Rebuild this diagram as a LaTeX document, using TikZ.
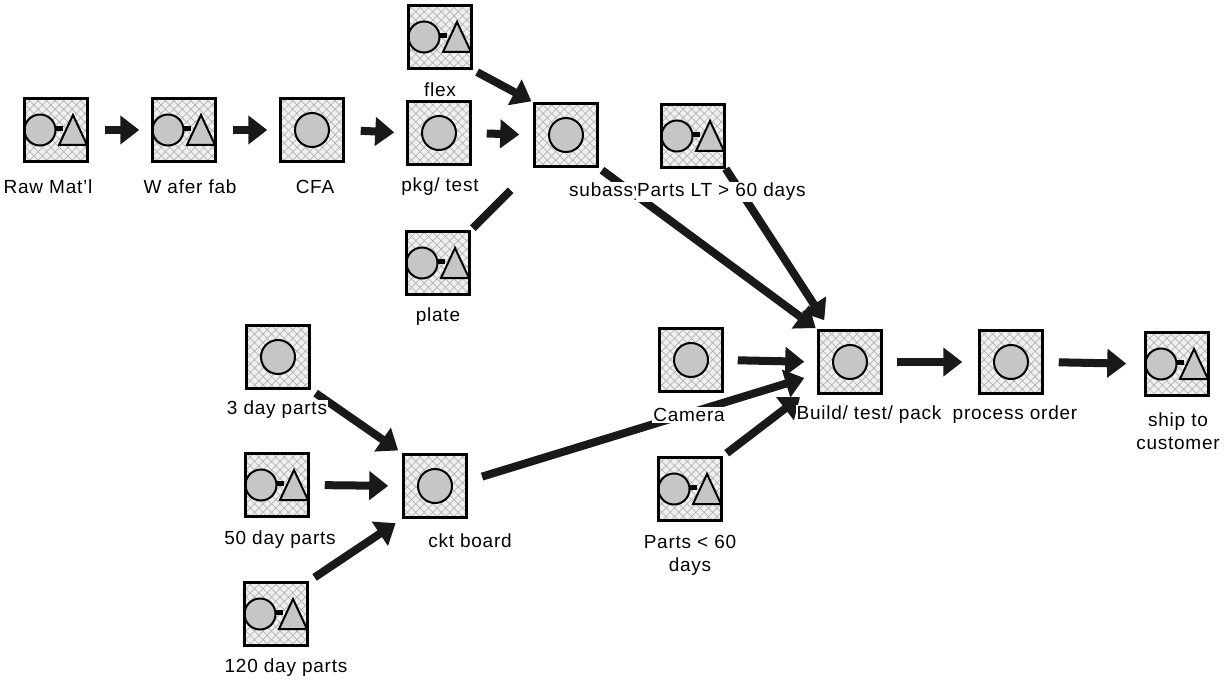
\documentclass[tikz,border=0pt]{standalone}
\usepackage{fontspec}
\setmainfont{Liberation Sans}[LetterSpace=4]
\usetikzlibrary{arrows.meta,patterns.meta,calc}
\newcommand\boxbg{%
  \fill[pattern={Lines[angle=45,distance=6pt,line width=0.7pt]},pattern color=gray!60]
    (path picture bounding box.south west) rectangle (path picture bounding box.north east);
  \fill[pattern={Lines[angle=-45,distance=6pt,line width=0.7pt]},pattern color=gray!60]
    (path picture bounding box.south west) rectangle (path picture bounding box.north east);}
\tikzset{
  box/.style={draw, line width=2.5pt, minimum size=63pt, inner sep=0pt, fill=gray!12},
  opbox/.style={box, path picture={\boxbg
     \draw[line width=2pt, fill=gray!45] (path picture bounding box.center) circle (17pt);}},
  invbox/.style={box, path picture={\boxbg
     \begin{scope}[shift={(path picture bounding box.center)}]
       \draw[line width=2pt, fill=gray!45] (-16,0) circle (15.5pt);
       \draw[line width=2pt, fill=gray!45, line join=miter] (3,15) -- (17,-15) -- (31,15) -- cycle;
       \fill[black] (0,-4) rectangle (7,1);
     \end{scope}}},
  arr/.style={line width=8pt, color=black!90, -{Triangle[length=19pt,width=28pt]}},
  plain/.style={line width=8pt, color=black!90},
  lab/.style={fill=white, inner sep=1pt, font=\fontsize{19}{23}\selectfont, align=center},
}
\begin{document}
\begin{tikzpicture}[x=1pt,y=-1pt]
\useasboundingbox[fill=white] (0,0) rectangle (1224,682);
% boxes
\node[invbox] (raw) at (56,130) {};
\node[invbox] (wafer) at (184,130) {};
\node[opbox] (cfa) at (312,130) {};
\node[opbox] (pkg) at (439,133) {};
\node[invbox] (flex) at (440,37) {};
\node[opbox] (subassy) at (566,135) {};
\node[invbox] (partslt) at (693,136) {};
\node[invbox] (plate) at (438,263) {};
\node[opbox] (day3) at (278,357) {};
\node[invbox] (day50) at (277,485) {};
\node[invbox] (day120) at (276,614) {};
\node[opbox] (ckt) at (435,486) {};
\node[opbox] (camera) at (691,360) {};
\node[invbox] (parts60) at (690,489) {};
\node[opbox] (build) at (850,362) {};
\node[opbox] (proc) at (1011,362) {};
\node[invbox] (ship) at (1177,364) {};
% connectors
\draw[arr, shorten <=16pt, shorten >=12pt] (raw.east) -- (wafer.west);
\draw[arr, shorten <=16pt, shorten >=12pt] (wafer.east) -- (cfa.west);
\draw[arr, shorten <=16pt, shorten >=12pt] (cfa.east) -- (pkg.west);
\draw[arr, shorten <=15pt, shorten >=14pt] (pkg.east) -- (subassy.west);
\draw[arr, shorten <=5pt, shorten >=2pt] (flex.south east) -- (subassy.north west);
\draw[plain, shorten <=3pt, shorten >=32pt] (plate.north east) -- (subassy.south west);
\draw[arr, shorten <=4pt, shorten >=2pt] (subassy.south east) -- (build.north west);
\draw[arr] (partslt.south east) -- ([xshift=7pt,yshift=9pt]build.north west);
\draw[arr, shorten <=14pt, shorten >=13pt] (camera.east) -- (build.west);
\draw[arr, shorten <=15pt] ([yshift=5pt]ckt.east) -- ([xshift=-13pt,yshift=-16pt]build.west);
\draw[arr, shorten <=5pt, shorten >=4pt] (parts60.north east) -- ([xshift=-14pt]build.south west);
\draw[arr, shorten <=14pt, shorten >=16pt] (build.east) -- (proc.west);
\draw[arr, shorten <=15pt, shorten >=18pt] (proc.east) -- (ship.west);
\draw[arr, shorten <=6pt, shorten >=5pt] (day3.south east) -- (ckt.north west);
\draw[arr, shorten <=15pt, shorten >=14pt] (day50.east) -- (ckt.west);
\draw[arr, shorten <=7pt, shorten >=8pt] (day120.north east) -- (ckt.south west);
% labels
\node[lab] (lraw) at (48,187) {Raw Mat'l};
\node[lab] (lwafer) at (190,187) {W afer fab};
\node[lab] (lcfa) at (315,187) {CFA};
\node[lab] (lpkg) at (440,187) {pkg/ test};
\node[lab] (lflex) at (440,90) {flex};
\node[lab, anchor=west] (lsub) at (568,192) {subassy};
\node[lab, anchor=west] (lplt) at (636,192) {Parts LT > 60 days};
\node[lab] (lplate) at (438,317) {plate};
\node[lab] (lday3) at (277,410) {3 day parts};
\node[lab] (lday50) at (280,540) {50 day parts};
\node[lab] (lday120) at (286,668) {120 day parts};
\node[lab] (lckt) at (470,541) {ckt board};
\node[lab] (lcam) at (689,415) {Camera};
\node[lab] (lbuild) at (869,415) {Build/ test/ pack};
\node[lab] (lproc) at (1015,415) {process order};
\node[lab] (lship) at (1178,431) {ship to\\customer};
\node[lab] (lp60) at (690,555) {Parts < 60\\days};
\end{tikzpicture}
\end{document}
